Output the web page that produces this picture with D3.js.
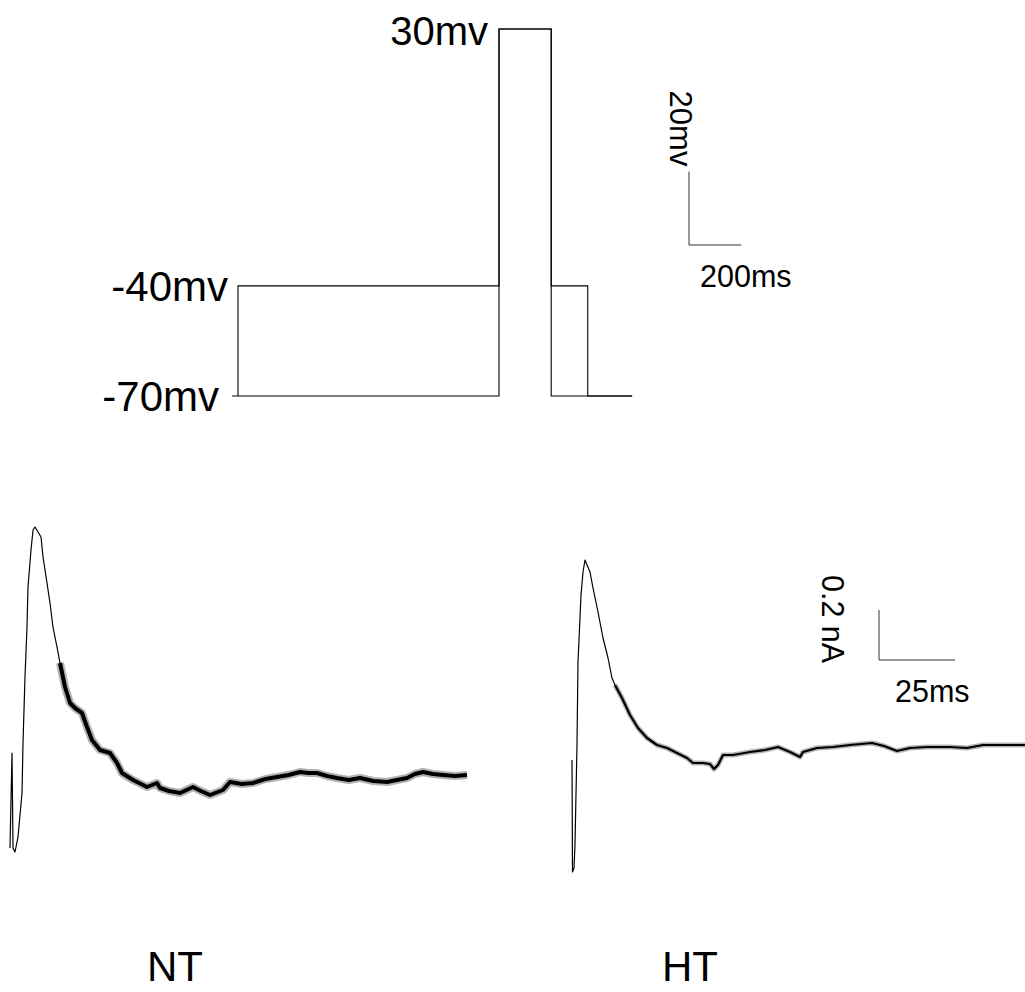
<!DOCTYPE html>
<html>
<head>
<meta charset="utf-8">
<script src="https://cdn.jsdelivr.net/npm/d3@7/dist/d3.min.js"></script>
<style>
  html, body { margin: 0; padding: 0; background: #fff; }
  svg { display: block; }
  text { font-family: "Liberation Sans", Arial, sans-serif; fill: #000; }
</style>
</head>
<body>
<svg id="chart" width="1025" height="992"></svg>
<script>
// ---------- DATA ----------
// Voltage protocol (time in ms, membrane potential in mV)
const protocolPrepulse = [
  [0, -70], [0, -40], [1000, -40], [1000, 30], [1200, 30],
  [1200, -40], [1340, -40], [1340, -70], [1510, -70]
];
const protocolNoPrepulse = [
  [-23, -70], [1000, -70], [1000, 30], [1200, 30], [1200, -70], [1510, -70]
];
const voltageLabels = ["30mv", "-40mv", "-70mv"];
const voltageLevels = [30, -40, -70];

// Current traces (time in ms, current in nA)
const ntTime = [0, 0.66, 0.99, 1.64, 2.63, 3.95, 4.28, 4.93, 5.59, 5.92, 6.91, 7.57, 8.22, 9.21, 10.2,
  10.86, 12.17, 13.16, 14.14, 15.46, 16.45, 18.09, 19.74, 21.38, 23.68, 25.33, 26.97, 29.61, 32.89,
  35.2, 36.84, 40.46, 45.07, 48.36, 49.34, 52.3, 55.92, 60.2, 62.8, 65.79, 70.07, 72.37, 76.2, 79.93,
  84.1, 87.83, 91.6, 95.39, 98.2, 100.99, 104.3, 107.57, 111.4, 115.13, 119.5, 124.01, 127.3, 130.59,
  133.2, 135.86, 139.1, 142.43, 146.4, 150.33];
const ntCurrent = [-0.232, 0.148, -0.232, -0.248, -0.188, -0.012, 0.188, 0.452, 0.652, 0.812, 0.96, 1.04,
  1.052, 1.032, 1.012, 0.932, 0.828, 0.748, 0.652, 0.572, 0.508, 0.412, 0.348, 0.328, 0.308, 0.252, 0.2,
  0.16, 0.148, 0.108, 0.068, 0.04, 0.012, 0.028, 0.008, -0.004, -0.012, 0.012, -0.004, -0.02, 0, 0.032,
  0.024, 0.028, 0.044, 0.052, 0.06, 0.072, 0.068, 0.068, 0.056, 0.048, 0.04, 0.048, 0.036, 0.032, 0.04,
  0.048, 0.064, 0.072, 0.064, 0.06, 0.056, 0.06];

const htTime = [0.66, 0.82, 1.32, 1.64, 2.3, 2.63, 3.62, 4.28, 4.93, 6.58, 7.57, 9.21, 10.86, 12.5, 13.82,
  14.8, 17.11, 19.74, 22.37, 25.33, 28.62, 31.91, 35.2, 38.49, 40.46, 43.75, 46.05, 47.37, 48.68, 50.33,
  53.62, 59.21, 64.14, 68.42, 72.37, 75.66, 76.64, 81.25, 86.51, 92.11, 99.34, 103.29, 107.57, 111.84,
  117.43, 125, 130.59, 135.86, 141.45, 149.67];
const htCurrent = [0, -0.448, -0.432, -0.34, 0.06, 0.392, 0.66, 0.752, 0.8, 0.752, 0.688, 0.592, 0.488,
  0.408, 0.328, 0.3, 0.248, 0.18, 0.128, 0.088, 0.06, 0.048, 0.028, 0.008, -0.012, -0.012, -0.016,
  -0.036, -0.02, 0.02, 0.02, 0.032, 0.04, 0.052, 0.032, 0.012, 0.032, 0.048, 0.052, 0.06, 0.068, 0.056,
  0.036, 0.048, 0.052, 0.052, 0.048, 0.06, 0.06, 0.06];

const conditionLabels = ["NT", "HT"];

// Scale bars
const protocolBar = { mv: 20, ms: 200, mvLabel: "20mv", msLabel: "200ms" };
const currentBar = { nA: 0.2, ms: 25, nALabel: "0.2 nA", msLabel: "25ms" };

// ---------- DRAWING ----------
const svg = d3.select("#chart");

// Protocol scales
const xP = d3.scaleLinear().domain([0, 1000]).range([238, 499]);
const yP = d3.scaleLinear().domain([-70, 30]).range([396, 29]);

const protoLine = d3.line().x(d => xP(d[0])).y(d => yP(d[1]));
const gP = svg.append("g");
[protocolNoPrepulse, protocolPrepulse].forEach(p => {
  gP.append("path").attr("d", protoLine(p))
    .attr("fill", "none").attr("stroke", "#000").attr("stroke-width", 1.1);
});

// Voltage labels
const labelRight = [488, 228, 219];
const labelDy = [16, 15, 15];
const labelSize = [40, 42, 42];
voltageLevels.forEach((v, i) => {
  gP.append("text")
    .attr("x", labelRight[i])
    .attr("y", yP(v) + labelDy[i])
    .attr("text-anchor", "end")
    .attr("font-size", labelSize[i])
    .text(voltageLabels[i]);
});

// Protocol scale bar
const pbx = 689, pby = 245;
const pbH = yP(-70) - yP(-70 + protocolBar.mv);
const pbW = xP(protocolBar.ms) - xP(0);
gP.append("path")
  .attr("d", `M${pbx},${pby - pbH}V${pby}H${pbx + pbW}`)
  .attr("fill", "none").attr("stroke", "#333").attr("stroke-width", 1);
gP.append("text")
  .attr("transform", `translate(${pbx - 19},${pby - pbH - 81}) rotate(90)`)
  .attr("font-size", 31)
  .text(protocolBar.mvLabel);
gP.append("text")
  .attr("x", pbx + 11).attr("y", pby + 42)
  .attr("font-size", 30.5)
  .text(protocolBar.msLabel);

// Current trace panels
function drawTrace(time, current, x0, y0, splitT) {
  const x = d3.scaleLinear().domain([0, 150]).range([x0, x0 + 456]);
  const y = d3.scaleLinear().domain([0, 1]).range([y0, y0 - 250]);
  const pts = time.map((t, i) => [t, current[i]]);
  const line = d3.line().x(d => x(d[0])).y(d => y(d[1])).curve(d3.curveLinear);
  const g = svg.append("g");
  const fast = pts.filter(d => d[0] <= splitT);
  const slow = pts.filter(d => d[0] >= splitT);
  g.append("path").attr("d", line(fast))
    .attr("fill", "none").attr("stroke", "#000").attr("stroke-width", 1.2)
    .attr("stroke-linejoin", "round");
  return { g, line, slow, x, y };
}

const nt = drawTrace(ntTime, ntCurrent, 10, 790, 16.45);
nt.g.append("path").attr("d", nt.line(nt.slow))
  .attr("fill", "none").attr("stroke", "#000").attr("stroke-opacity", 0.3)
  .attr("stroke-width", 8).attr("stroke-linejoin", "round");
nt.g.append("path").attr("d", nt.line(nt.slow))
  .attr("fill", "none").attr("stroke", "#000")
  .attr("stroke-width", 4).attr("stroke-linejoin", "round");

const ht = drawTrace(htTime, htCurrent, 570, 760, 14.8);
ht.g.append("path").attr("d", ht.line(ht.slow))
  .attr("fill", "none").attr("stroke", "#000").attr("stroke-opacity", 0.3)
  .attr("stroke-width", 5).attr("stroke-linejoin", "round");
ht.g.append("path").attr("d", ht.line(ht.slow))
  .attr("fill", "none").attr("stroke", "#000")
  .attr("stroke-width", 2.2).attr("stroke-linejoin", "round");

// Current scale bar (same scales as traces)
const cbx = 879, cby = 660;
const cbH = ht.y(0) - ht.y(currentBar.nA);
const cbW = ht.x(currentBar.ms) - ht.x(0);
svg.append("path")
  .attr("d", `M${cbx},${cby - cbH}V${cby}H${cbx + cbW}`)
  .attr("fill", "none").attr("stroke", "#333").attr("stroke-width", 1);
svg.append("text")
  .attr("transform", `translate(${cbx - 57},${cby - cbH - 35}) rotate(90)`)
  .attr("font-size", 30.5)
  .text(currentBar.nALabel);
svg.append("text")
  .attr("x", cbx + 16).attr("y", cby + 42)
  .attr("font-size", 30.5)
  .text(currentBar.msLabel);

// Condition labels
const condX = [147, 662];
conditionLabels.forEach((lab, i) => {
  svg.append("text")
    .attr("x", condX[i]).attr("y", 981)
    .attr("font-size", 42)
    .text(lab);
});
</script>
</body>
</html>
